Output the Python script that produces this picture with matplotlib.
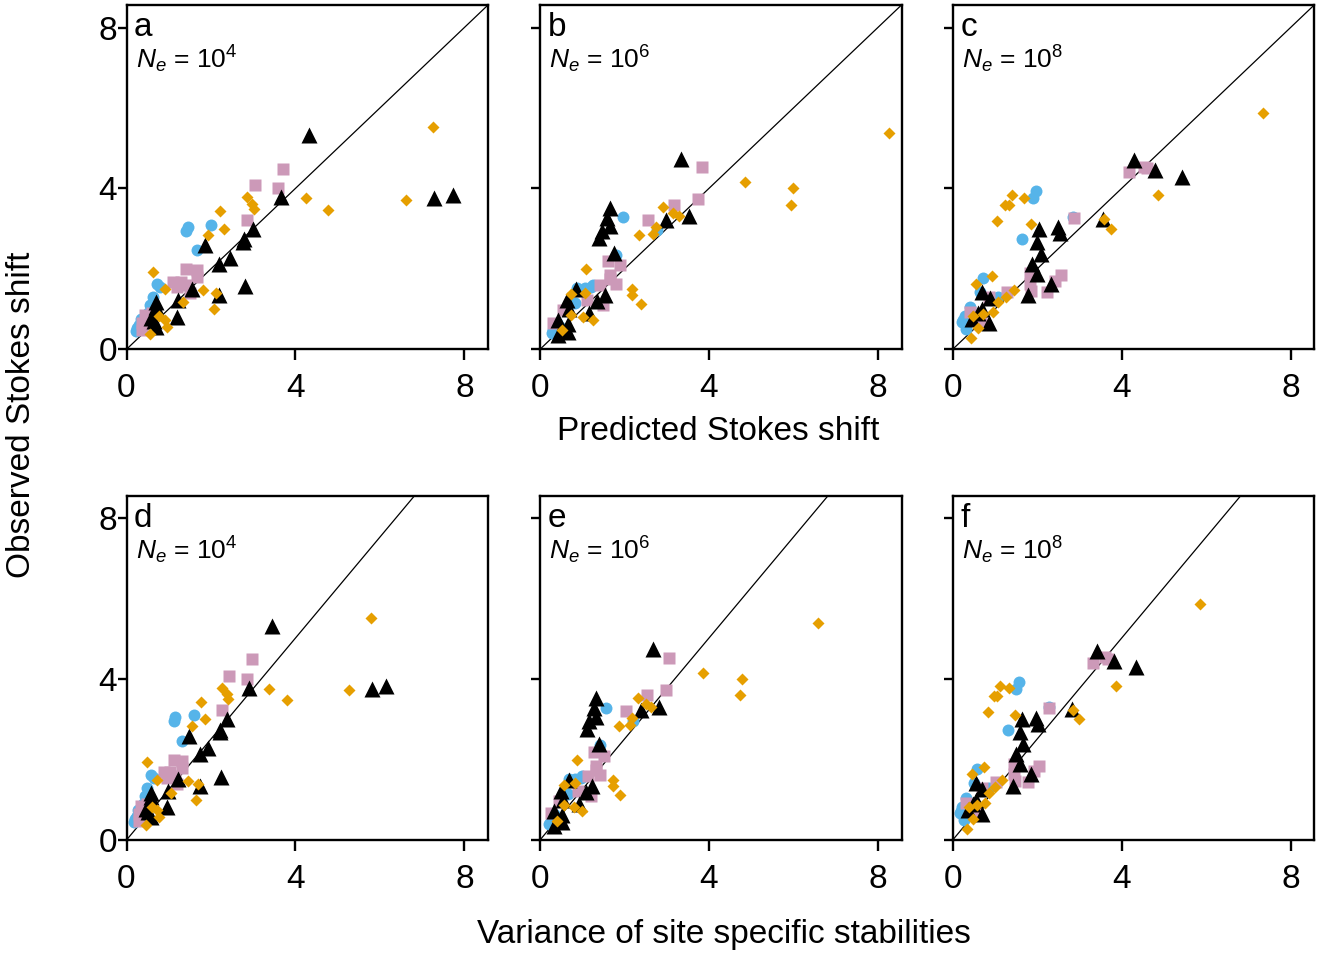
import matplotlib
matplotlib.use("Agg")
import matplotlib.pyplot as plt

plt.rcParams['font.family'] = ['Liberation Sans', 'DejaVu Sans']
plt.rcParams['mathtext.fontset'] = 'custom'
plt.rcParams['mathtext.rm'] = 'Liberation Sans'
plt.rcParams['mathtext.it'] = 'Liberation Sans:italic'

# ---------------- data ----------------
# Observed Stokes shift (shared by the predicted and the variance panels)
obs_blue_1e4 = [2.95, 3.05, 3.10, 2.46, 1.62, 1.55, 1.30, 1.10, 0.90, 0.75, 0.60, 0.45, 0.52]
obs_pink_1e4 = [4.49, 4.08, 4.00, 3.22, 2.00, 1.97, 1.80, 1.68, 1.68, 1.60, 1.40, 1.55, 0.90, 0.85, 0.65, 0.48, 0.75]
obs_orange_1e4 = [5.52, 3.75, 3.47, 3.72, 3.79, 3.62, 3.50, 3.44, 3.00, 2.84, 1.93, 1.49, 1.47, 1.40, 0.99, 1.17, 0.83, 0.74, 0.56, 0.37]
obs_black_1e4 = [5.32, 3.79, 3.75, 3.83, 3.00, 2.73, 2.68, 2.28, 2.13, 2.59, 1.57, 1.35, 1.51, 1.22, 0.81, 1.18, 1.06, 0.95, 0.77, 0.56, 0.70]

obs_blue_1e6 = [3.29, 2.35, 2.96, 1.52, 1.55, 1.60, 1.52, 1.15, 0.56, 0.48, 0.40, 0.65]
obs_pink_1e6 = [4.53, 3.74, 3.60, 3.21, 2.19, 2.09, 1.85, 1.62, 1.60, 1.10, 1.23, 0.98, 0.66, 1.75]
obs_orange_1e6 = [5.39, 4.15, 4.00, 3.60, 3.53, 3.39, 3.31, 3.04, 2.87, 2.83, 2.00, 1.50, 1.35, 1.13, 1.41, 1.37, 0.86, 0.81, 0.73, 0.48]
obs_black_1e6 = [4.74, 3.31, 3.22, 3.52, 3.27, 3.06, 2.95, 2.77, 2.39, 1.35, 1.19, 0.90, 1.50, 1.23, 1.00, 0.73, 0.63, 0.44, 0.36]

obs_blue_1e8 = [3.93, 3.75, 2.73, 3.30, 1.77, 1.42, 1.29, 1.04, 0.83, 0.67, 0.50, 0.72]
obs_pink_1e8 = [4.40, 4.54, 4.50, 3.27, 1.85, 1.71, 1.43, 1.90, 1.63, 1.46, 1.43, 1.29, 0.92, 0.71]
obs_orange_1e8 = [5.87, 3.83, 3.23, 3.00, 3.83, 3.77, 3.58, 3.58, 3.19, 3.11, 1.82, 1.63, 1.48, 1.31, 1.17, 0.92, 0.88, 0.83, 0.52, 0.27]
obs_black_1e8 = [4.71, 4.46, 4.29, 3.25, 3.04, 2.88, 3.00, 2.68, 2.38, 2.13, 1.88, 1.35, 1.63, 1.42, 1.28, 1.00, 0.75, 0.65, 0.90]

# Predicted Stokes shift
pred_blue_1e4 = [1.42, 1.46, 2.00, 1.66, 0.72, 0.80, 0.62, 0.55, 0.50, 0.35, 0.30, 0.22, 0.25]
pred_pink_1e4 = [3.71, 3.04, 3.59, 2.85, 1.41, 1.66, 1.66, 1.11, 1.30, 1.43, 1.50, 1.20, 0.60, 0.44, 0.36, 0.36, 0.50]
pred_orange_1e4 = [7.25, 4.24, 4.76, 6.62, 2.85, 2.97, 3.03, 2.22, 2.32, 1.94, 0.62, 0.91, 1.82, 2.12, 2.07, 1.33, 0.76, 0.91, 0.95, 0.56]
pred_black_1e4 = [4.32, 3.65, 7.29, 7.72, 3.00, 2.79, 2.77, 2.44, 2.20, 1.86, 2.81, 2.18, 1.54, 1.23, 1.19, 0.71, 0.71, 0.71, 0.59, 0.71, 0.65]

pred_blue_1e6 = [1.97, 1.80, 2.76, 1.06, 1.20, 1.26, 0.87, 0.84, 0.47, 0.31, 0.28, 0.40]
pred_pink_1e6 = [3.83, 3.74, 3.17, 2.56, 1.60, 1.89, 1.65, 1.80, 1.43, 1.50, 1.12, 0.55, 0.31, 1.65]
pred_orange_1e6 = [8.27, 4.85, 6.00, 5.95, 2.92, 3.15, 3.29, 2.74, 2.68, 2.35, 1.10, 2.17, 2.17, 2.38, 1.06, 0.73, 0.73, 1.01, 1.25, 0.51]
pred_black_1e6 = [3.35, 3.53, 2.98, 1.65, 1.59, 1.65, 1.46, 1.40, 1.75, 1.54, 1.35, 1.16, 0.85, 0.63, 0.69, 0.43, 0.67, 0.67, 0.42]

pred_blue_1e8 = [1.97, 1.89, 1.65, 2.85, 0.72, 0.64, 1.08, 0.40, 0.29, 0.21, 0.32, 0.25]
pred_pink_1e8 = [4.18, 4.53, 4.60, 2.87, 2.57, 2.42, 2.24, 1.82, 1.82, 1.86, 1.29, 0.86, 0.40, 0.68]
pred_orange_1e8 = [7.35, 4.85, 3.58, 3.76, 1.40, 1.68, 1.23, 1.33, 1.06, 1.86, 0.94, 0.56, 1.45, 1.27, 1.08, 0.96, 0.72, 0.48, 0.60, 0.43]
pred_black_1e8 = [4.29, 4.79, 5.44, 3.55, 2.49, 2.53, 2.05, 1.99, 2.09, 1.87, 1.99, 1.78, 2.33, 0.70, 0.88, 0.69, 0.45, 0.86, 0.60]

# Variance of site specific stabilities
var_blue_1e4 = [1.13, 1.16, 1.59, 1.32, 0.57, 0.64, 0.49, 0.44, 0.40, 0.28, 0.24, 0.18, 0.20]
var_pink_1e4 = [2.96, 2.42, 2.86, 2.27, 1.12, 1.32, 1.32, 0.88, 1.04, 1.14, 1.20, 0.96, 0.48, 0.35, 0.29, 0.29, 0.40]
var_orange_1e4 = [5.78, 3.38, 3.79, 5.28, 2.27, 2.37, 2.41, 1.77, 1.85, 1.55, 0.49, 0.73, 1.45, 1.69, 1.65, 1.06, 0.61, 0.73, 0.76, 0.45]
var_black_1e4 = [3.44, 2.91, 5.81, 6.15, 2.39, 2.22, 2.21, 1.94, 1.75, 1.48, 2.24, 1.74, 1.23, 0.98, 0.95, 0.57, 0.57, 0.57, 0.47, 0.57, 0.52]

var_blue_1e6 = [1.57, 1.43, 2.20, 0.84, 0.96, 1.00, 0.69, 0.67, 0.37, 0.25, 0.22, 0.32]
var_pink_1e6 = [3.05, 2.98, 2.53, 2.04, 1.28, 1.51, 1.32, 1.43, 1.14, 1.20, 0.89, 0.44, 0.25, 1.32]
var_orange_1e6 = [6.59, 3.87, 4.78, 4.74, 2.33, 2.51, 2.62, 2.18, 2.14, 1.87, 0.88, 1.73, 1.73, 1.90, 0.84, 0.58, 0.58, 0.80, 1.00, 0.41]
var_black_1e6 = [2.67, 2.81, 2.38, 1.32, 1.27, 1.32, 1.16, 1.12, 1.39, 1.23, 1.08, 0.92, 0.68, 0.50, 0.55, 0.34, 0.53, 0.53, 0.33]

var_blue_1e8 = [1.57, 1.51, 1.32, 2.27, 0.57, 0.51, 0.86, 0.32, 0.23, 0.17, 0.26, 0.20]
var_pink_1e8 = [3.33, 3.61, 3.67, 2.29, 2.05, 1.93, 1.79, 1.45, 1.45, 1.48, 1.03, 0.69, 0.32, 0.54]
var_orange_1e8 = [5.86, 3.87, 2.85, 3.00, 1.12, 1.34, 0.98, 1.06, 0.84, 1.48, 0.75, 0.45, 1.16, 1.01, 0.86, 0.77, 0.57, 0.38, 0.48, 0.34]
var_black_1e8 = [3.42, 3.82, 4.34, 2.83, 1.98, 2.02, 1.63, 1.59, 1.67, 1.49, 1.59, 1.42, 1.86, 0.56, 0.70, 0.55, 0.36, 0.69, 0.48]

panel_letters = ['a', 'b', 'c', 'd', 'e', 'f']
ne_exponents = ['4', '6', '8']
axis_ticks = [0, 4, 8]
variance_slope = 1.255   # reference line for the variance panels

obs = {
    '4': (obs_blue_1e4, obs_pink_1e4, obs_black_1e4, obs_orange_1e4),
    '6': (obs_blue_1e6, obs_pink_1e6, obs_black_1e6, obs_orange_1e6),
    '8': (obs_blue_1e8, obs_pink_1e8, obs_black_1e8, obs_orange_1e8),
}
pred = {
    '4': (pred_blue_1e4, pred_pink_1e4, pred_black_1e4, pred_orange_1e4),
    '6': (pred_blue_1e6, pred_pink_1e6, pred_black_1e6, pred_orange_1e6),
    '8': (pred_blue_1e8, pred_pink_1e8, pred_black_1e8, pred_orange_1e8),
}
var = {
    '4': (var_blue_1e4, var_pink_1e4, var_black_1e4, var_orange_1e4),
    '6': (var_blue_1e6, var_pink_1e6, var_black_1e6, var_orange_1e6),
    '8': (var_blue_1e8, var_pink_1e8, var_black_1e8, var_orange_1e8),
}

# marker styles: blue circles, pink squares, black triangles, orange diamonds
styles = [
    dict(marker='o', color='#56B4E9', ms=8.6),
    dict(marker='s', color='#CC99B8', ms=9.0),
    dict(marker='^', color='black', ms=11.5),
    dict(marker='D', color='#E69F00', ms=6.4),
]

# ---------------- figure ----------------
W, H = 1324, 957
fig = plt.figure(figsize=(W / 100, H / 100), dpi=100)

col_left = [126.5, 540.0, 952.7]
ax_w = 361.5
row_top = [5.0, 495.7]
ax_h = 344.3
lim = 8.56

for r in range(2):
    for c in range(3):
        exp = ne_exponents[c]
        ax = fig.add_axes([col_left[c] / W, 1 - (row_top[r] + ax_h) / H, ax_w / W, ax_h / H])
        xs = pred[exp] if r == 0 else var[exp]
        ys = obs[exp]
        slope = 1.0 if r == 0 else variance_slope
        ax.plot([0, lim / slope], [0, lim], color='black', lw=0.9, zorder=1)
        for x, y, st in zip(xs, ys, styles):
            ax.plot(x, y, linestyle='none', marker=st['marker'], ms=st['ms'],
                    mfc=st['color'], mec='none', zorder=2)
        ax.set_xlim(0, lim)
        ax.set_ylim(0, lim)
        ax.set_xticks(axis_ticks)
        ax.set_yticks(axis_ticks)
        for s in ax.spines.values():
            s.set_linewidth(1.7)
        ax.tick_params(axis='x', direction='out', length=8, width=1.7, pad=9, labelsize=24)
        ax.tick_params(axis='y', direction='out', length=6.5, width=1.7, pad=0.5, labelsize=24)
        if c != 0:
            ax.set_yticklabels([])
        ax.text(0.021, 0.91, panel_letters[r * 3 + c], transform=ax.transAxes,
                fontsize=24, ha='left', va='baseline')
        ax.text(0.025, 0.816, r'$\mathit{N}_{\mathit{e}}$ = 10$^{%s}$' % exp,
                transform=ax.transAxes, fontsize=19, ha='left', va='baseline')

fig.text(718 / W, 1 - 432 / H, 'Predicted Stokes shift', ha='center', va='center', fontsize=24)
fig.text(723.5 / W, 1 - 935 / H, 'Variance of site specific stabilities', ha='center', va='center', fontsize=24)
fig.text(22 / W, 1 - 415 / H, 'Observed Stokes shift', ha='center', va='center', rotation=90, fontsize=24)

fig.savefig('out.png', dpi=100)
